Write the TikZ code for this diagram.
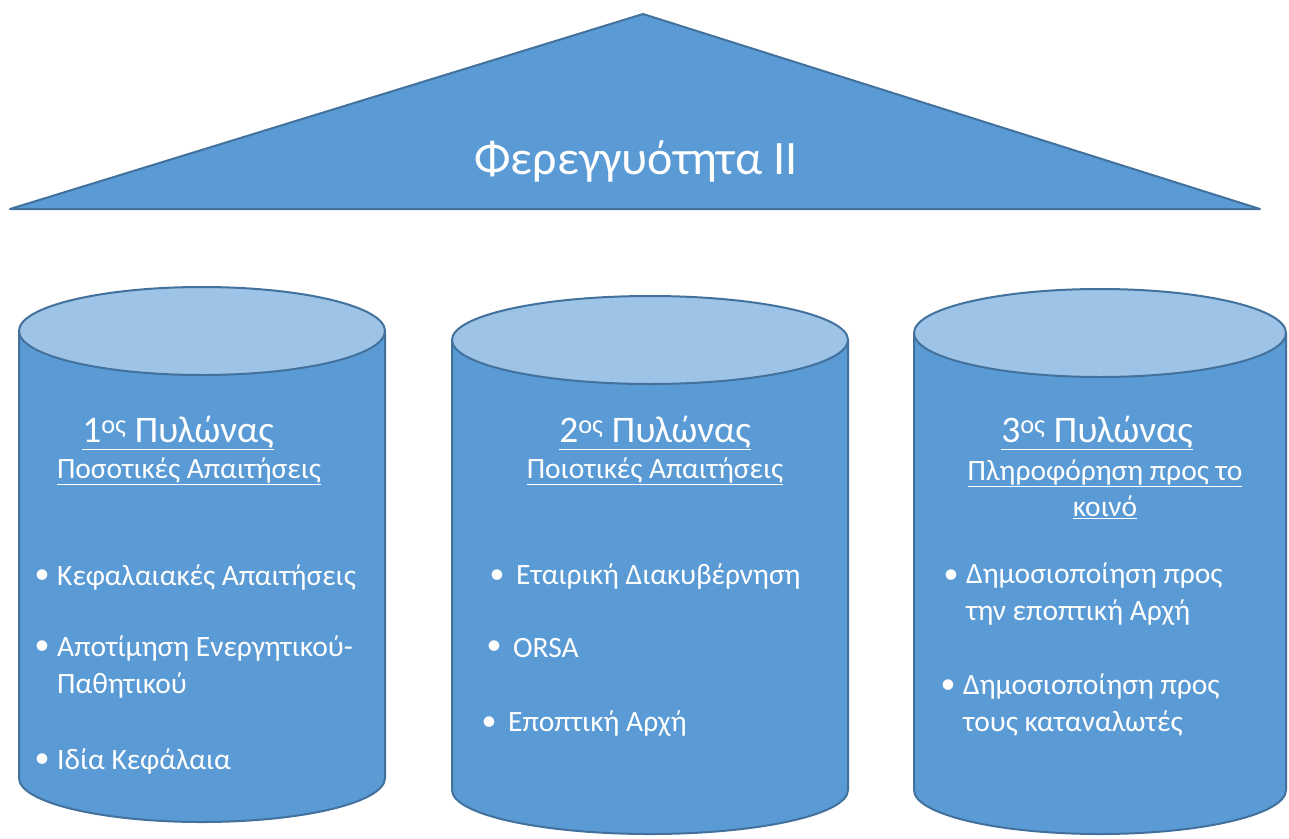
\documentclass[tikz,border=0pt]{standalone}
\usepackage{fontspec}
\setmainfont{Carlito}
\definecolor{pillarblue}{HTML}{5B9BD5}
\definecolor{pillartop}{HTML}{9DC3E6}
\definecolor{pillarline}{HTML}{41719C}
\begin{document}
\begin{tikzpicture}[x=1pt,y=-1pt,
  shell/.style={fill=pillarblue, draw=pillarline, line width=2pt, line join=round},
  lid/.style={fill=pillartop, draw=pillarline, line width=2pt},
  head/.style={text=white, font=\fontsize{37.5}{44}\selectfont, inner sep=0pt},
  sub/.style={text=white, font=\fontsize{29.5}{36}\selectfont, align=center, inner sep=0pt},
  dot/.style={text=white, font=\fontsize{30}{37}\selectfont, inner sep=0pt},
  item/.style={text=white, font=\fontsize{29.5}{37}\selectfont, align=left, anchor=west, inner sep=0pt}]
\useasboundingbox (0,0) rectangle (1289,838);

% roof
\draw[shell] (10,209) -- (643,14) -- (1260,209) -- cycle;
\node[text=white, font=\fontsize{48}{56}\selectfont] (roof) at (636,161) {Φερεγγυότητα II};

% pillar 1
\draw[shell] (19,331) -- (19,778) arc[start angle=180, end angle=0, x radius=183, y radius=44] -- (385,331) -- cycle;
\draw[lid] (202,331) ellipse [x radius=183, y radius=44];
\node[head] (h1) at (178,433) {\underline{1\textsuperscript{ος} Πυλώνας}};
\node[sub] (s1) at (189,471) {\underline{Ποσοτικές Απαιτήσεις}};
\node[dot] (d11) at (42,577) {•};
\node[item] (i11) at (57,577) {Κεφαλαιακές Απαιτήσεις};
\node[dot] (d12) at (42,648) {•};
\node[item] (i12) at (57,667) {Αποτίμηση Ενεργητικού-\\Παθητικού};
\node[dot] (d13) at (42,761) {•};
\node[item] (i13) at (57,761) {Ιδία Κεφάλαια};

% pillar 2
\draw[shell] (452,340) -- (452,790) arc[start angle=180, end angle=0, x radius=198, y radius=44] -- (848,340) -- cycle;
\draw[lid] (650,340) ellipse [x radius=198, y radius=44];
\node[head] (h2) at (655,433) {\underline{2\textsuperscript{ος} Πυλώνας}};
\node[sub] (s2) at (655,471) {\underline{Ποιοτικές Απαιτήσεις}};
\node[dot] (d21) at (497,577) {•};
\node[item] (i21) at (516,577) {Εταιρική Διακυβέρνηση};
\node[dot] (d22) at (494,648) {•};
\node[item] (i22) at (513,648) {ORSA};
\node[dot] (d23) at (489,724) {•};
\node[item] (i23) at (508,724) {Εποπτική Αρχή};

% pillar 3
\draw[shell] (914,333) -- (914,790) arc[start angle=180, end angle=0, x radius=186, y radius=44] -- (1286,333) -- cycle;
\draw[lid] (1100,333) ellipse [x radius=186, y radius=44];
\node[head] (h3) at (1097,433) {\underline{3\textsuperscript{ος} Πυλώνας}};
\node[sub] (s3) at (1105,489) {\underline{Πληροφόρηση προς το}\\\underline{κοινό}};
\node[dot] (d31) at (951,577) {•};
\node[item] (i31) at (966,594) {Δημοσιοποίηση προς\\την εποπτική Αρχή};
\node[dot] (d32) at (948,687) {•};
\node[item] (i32) at (963,705) {Δημοσιοποίηση προς\\τους καταναλωτές};
\end{tikzpicture}
\end{document}
